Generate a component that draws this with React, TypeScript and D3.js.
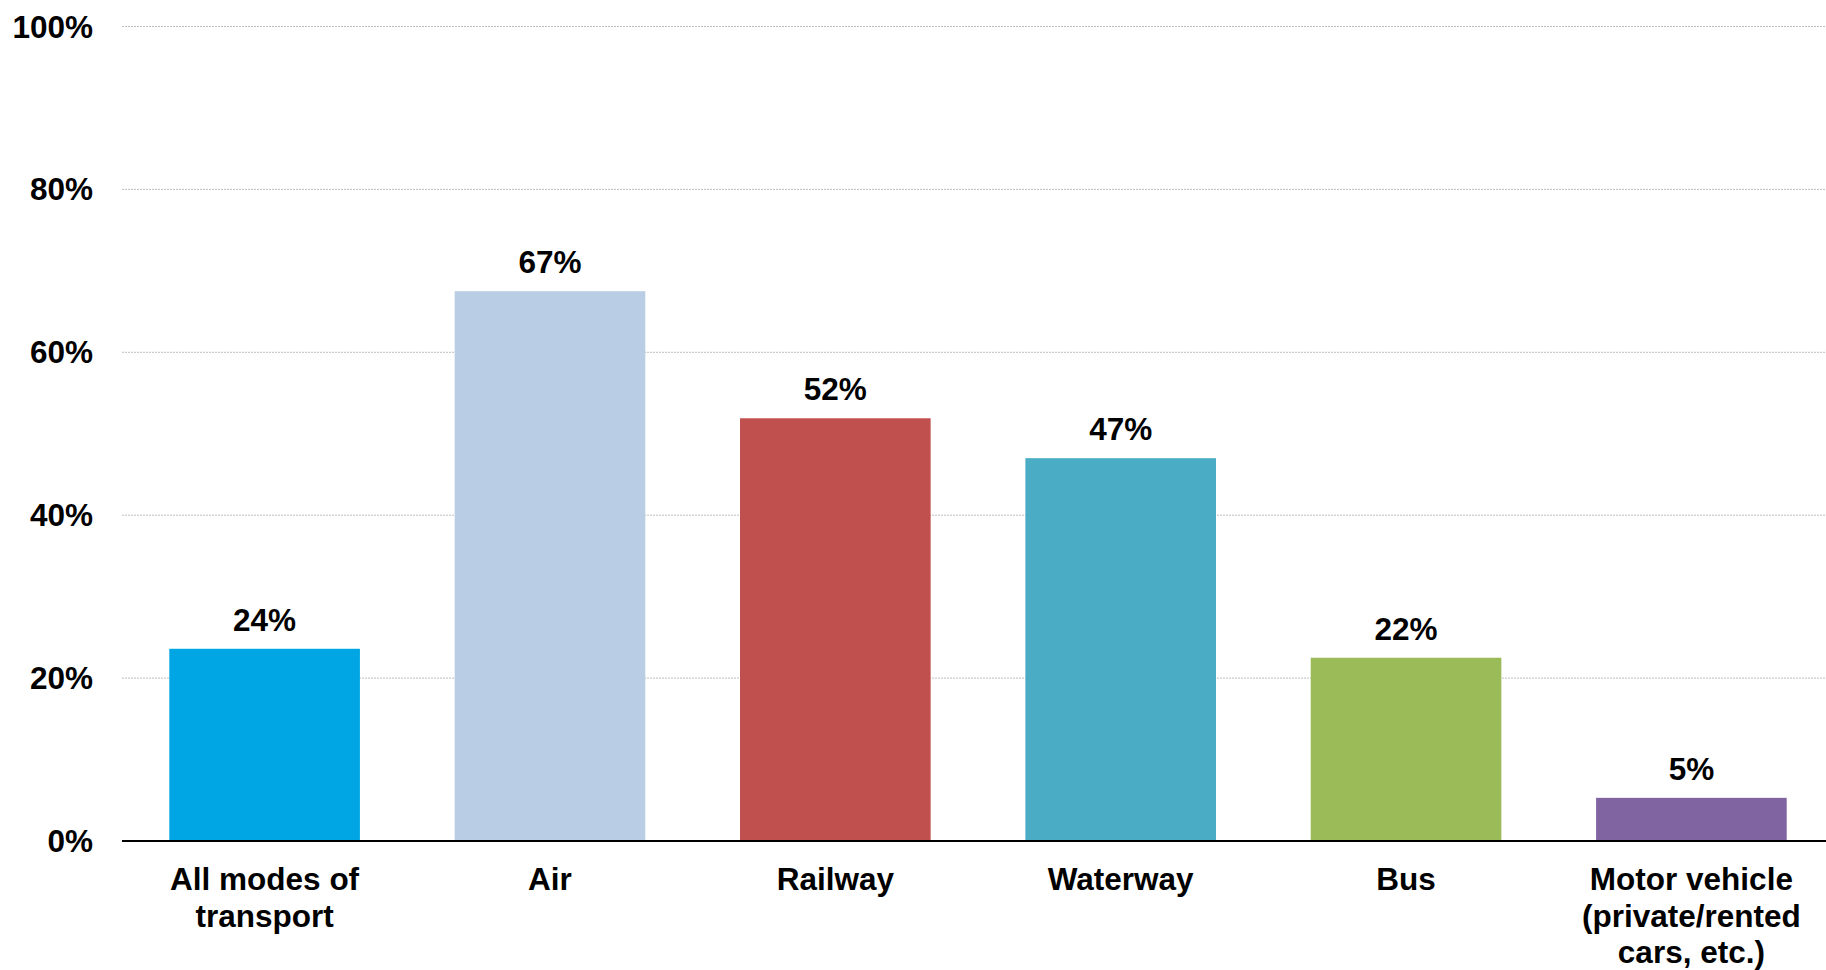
import React from "react";
import * as d3 from "d3";

const categories: string[][] = [
  ["All modes of", "transport"],
  ["Air"],
  ["Railway"],
  ["Waterway"],
  ["Bus"],
  ["Motor vehicle", "(private/rented", "cars, etc.)"],
];
const values: number[] = [23.6, 67.5, 51.9, 47.0, 22.5, 5.3];
const valueLabels: string[] = ["24%", "67%", "52%", "47%", "22%", "5%"];
const colors: string[] = ["#00A6E3", "#B9CDE5", "#C0504D", "#4BACC6", "#9BBB59", "#8064A2"];
const yTicks: number[] = [0, 20, 40, 60, 80, 100];

const W = 1826;
const H = 970;
const left = 122;
const right = 1826;
const y0 = 841;
const y100 = 26.5;
const font = "'Liberation Sans', Arial, sans-serif";

export default function App() {
  const ids = categories.map((_, i) => String(i));
  const x = d3.scaleBand<string>().domain(ids).range([169.3, 1786.7]).paddingInner(0.332).paddingOuter(0);
  const y = d3.scaleLinear().domain([0, 100]).range([y0, y100]);

  return (
    <svg width={W} height={H} style={{ position: "absolute", left: 0, top: 0, background: "#fff" }}>
      {yTicks.map((t) => (
        <g key={t}>
          {t > 0 && (
            <line x1={left} x2={right} y1={y(t)} y2={y(t)} stroke="#BFBFBF" strokeWidth={1} strokeDasharray="2,1" />
          )}
          <text
            x={93}
            y={y(t)}
            textAnchor="end"
            dominantBaseline="central"
            fontFamily={font}
            fontWeight="bold"
            fontSize={31.5}
            fill="#000"
          >
            {t}%
          </text>
        </g>
      ))}
      {values.map((v, i) => {
        const bx = x(ids[i])!;
        const bw = x.bandwidth();
        return (
          <g key={i}>
            <rect x={bx} y={y(v)} width={bw} height={y0 - y(v)} fill={colors[i]} />
            <text
              x={bx + bw / 2}
              y={y(v) - 18}
              textAnchor="middle"
              fontFamily={font}
              fontWeight="bold"
              fontSize={31.5}
              fill="#000"
            >
              {valueLabels[i]}
            </text>
            {categories[i].map((line, j) => (
              <text
                key={j}
                x={bx + bw / 2}
                y={890 + j * 36.5}
                textAnchor="middle"
                fontFamily={font}
                fontWeight="bold"
                fontSize={31.5}
                fill="#000"
              >
                {line}
              </text>
            ))}
          </g>
        );
      })}
      <line x1={left} x2={right} y1={y0} y2={y0} stroke="#000" strokeWidth={2} />
    </svg>
  );
}
